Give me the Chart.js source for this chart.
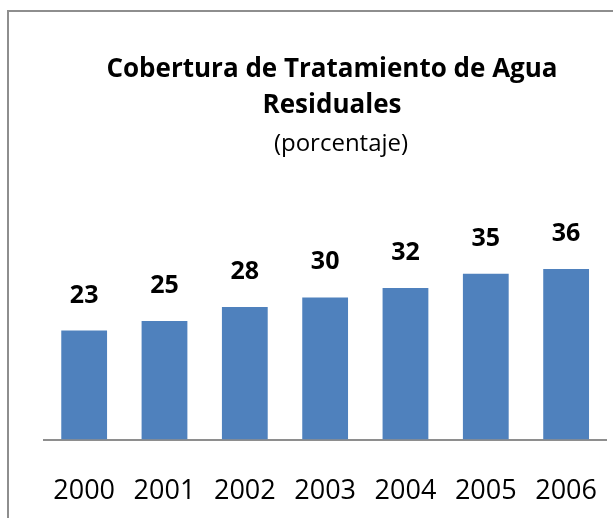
<!DOCTYPE html>
<html>
<head>
<meta charset="utf-8">
<script src="https://cdn.jsdelivr.net/npm/chart.js@4"></script>
<style>
    html, body { margin: 0; padding: 0; background: #fff; overflow: hidden; }
    #frame {
        position: absolute; left: 7px; top: 10px;
        width: 700px; height: 600px;
        border: 2px solid #8e8e8e;
    }
    #wrap { position: absolute; left: 0; top: 0; width: 633px; height: 560px; }
</style>
</head>
<body>
<div id="frame"></div>
<div id="wrap"><canvas id="chart" width="633" height="560"></canvas></div>
<script>
const years = ['2000', '2001', '2002', '2003', '2004', '2005', '2006'];
const coverage = [23, 25, 28, 30, 32, 35, 36];
const titleLines = ['Cobertura de Tratamiento de Agua', 'Residuales'];
const subtitle = '(porcentaje)';

const FONT = '"Open Sans", "Liberation Sans", sans-serif';

// title and value labels drawn by hand so they sit where Excel put them
const labelsPlugin = {
    id: 'labels',
    afterDatasetsDraw(chart) {
        const ctx = chart.ctx;
        ctx.save();
        ctx.fillStyle = '#000';
        ctx.textAlign = 'center';
        ctx.textBaseline = 'alphabetic';

        ctx.font = 'bold 26px ' + FONT;
        ctx.fillText(titleLines[0], 332, 77);
        ctx.fillText(titleLines[1], 332, 113);
        ctx.font = '24px ' + FONT;
        ctx.fillText(subtitle, 341, 151);

        ctx.font = 'bold 25px ' + FONT;
        chart.getDatasetMeta(0).data.forEach((bar, i) => {
            ctx.fillText(coverage[i], bar.x, bar.y - 28);
        });
        ctx.restore();
    }
};

new Chart(document.getElementById('chart'), {
    type: 'bar',
    data: {
        labels: years,
        datasets: [{
            data: coverage,
            backgroundColor: '#4F81BD',
            barPercentage: 0.57,
            categoryPercentage: 1
        }]
    },
    options: {
        responsive: false,
        animation: false,
        layout: { padding: { left: 44, right: 0, top: 250, bottom: 16 } },
        plugins: {
            legend: { display: false },
            tooltip: { enabled: false }
        },
        scales: {
            y: { display: false, min: 0, max: 40 },
            x: {
                grid: { display: false, drawTicks: false },
                border: { display: true, color: '#8e8e8e', width: 2 },
                ticks: {
                    color: '#000',
                    padding: 36,
                    maxRotation: 0,
                    minRotation: 0,
                    autoSkip: false,
                    font: { family: FONT, size: 27 }
                }
            }
        }
    },
    plugins: [labelsPlugin]
});
</script>
</body>
</html>
